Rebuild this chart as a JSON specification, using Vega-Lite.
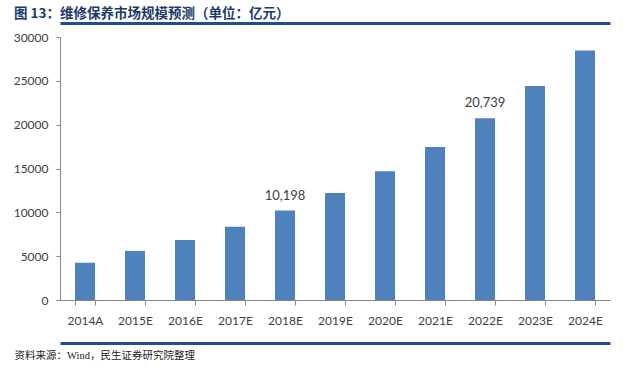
{
  "$schema": "https://vega.github.io/schema/vega-lite/v6.json",
  "width": 550,
  "height": 263,
  "autosize": {"type": "none"},
  "padding": {"left": 60, "top": 37, "right": 13, "bottom": 71},
  "background": "white",
  "title": {
    "text": "图 13：维修保养市场规模预测（单位：亿元）",
    "anchor": "start",
    "frame": "group",
    "dx": -46,
    "offset": 3,
    "font": "Noto Sans CJK SC",
    "fontSize": 13.5,
    "fontWeight": "bold",
    "color": "#1B3A6B"
  },
  "data": {
    "values": [
      {"year": "2014A", "value": 4250, "label": ""},
      {"year": "2015E", "value": 5600, "label": ""},
      {"year": "2016E", "value": 6850, "label": ""},
      {"year": "2017E", "value": 8350, "label": ""},
      {"year": "2018E", "value": 10198, "label": "10,198"},
      {"year": "2019E", "value": 12200, "label": ""},
      {"year": "2020E", "value": 14700, "label": ""},
      {"year": "2021E", "value": 17450, "label": ""},
      {"year": "2022E", "value": 20739, "label": "20,739"},
      {"year": "2023E", "value": 24400, "label": ""},
      {"year": "2024E", "value": 28450, "label": ""}
    ]
  },
  "layer": [
    {
      "mark": {"type": "bar", "color": "#4F81BD"},
      "encoding": {
        "x": {
          "field": "year", "type": "ordinal", "sort": null,
          "scale": {"paddingInner": 0.6, "paddingOuter": 0.3},
          "axis": {
            "orient": "bottom", "title": null, "labelAngle": 0,
            "domainColor": "#868686", "tickColor": "#868686",
            "tickSize": 5, "tickBand": "extent",
            "labelPadding": 10, "labelFont": "Lato", "labelFontSize": 12,
            "labelColor": "#404040"
          }
        },
        "y": {
          "field": "value", "type": "quantitative",
          "scale": {"domain": [0, 30000], "nice": false},
          "axis": {
            "title": null, "values": [0, 5000, 10000, 15000, 20000, 25000, 30000],
            "format": "d", "grid": false,
            "domainColor": "#868686", "tickColor": "#868686",
            "tickSize": 4, "labelPadding": 8,
            "labelFont": "Lato", "labelFontSize": 12, "labelColor": "#404040"
          }
        }
      }
    },
    {
      "transform": [{"filter": "datum.label != ''"}],
      "mark": {"type": "text", "baseline": "bottom", "dy": -8, "font": "Lato", "fontSize": 13, "color": "#404040"},
      "encoding": {
        "x": {"field": "year", "type": "ordinal", "sort": null, "axis": null},
        "y": {"field": "value", "type": "quantitative"},
        "text": {"field": "label"}
      }
    },
    {
      "mark": {"type": "point", "opacity": 0},
      "encoding": {
        "x": {
          "field": "year", "type": "ordinal", "sort": null,
          "axis": {
            "orient": "top", "offset": 14, "labels": false, "ticks": false,
            "title": null, "domainColor": "#1F4E8C", "domainWidth": 3
          }
        }
      }
    },
    {
      "mark": {"type": "point", "opacity": 0},
      "encoding": {
        "x": {
          "field": "year", "type": "ordinal", "sort": null,
          "axis": {
            "orient": "bottom", "offset": 43, "labels": false, "ticks": false,
            "domainColor": "#1F4E8C", "domainWidth": 3,
            "title": "资料来源：Wind，民生证券研究院整理",
            "titleAnchor": "start", "titleAlign": "left", "titleX": -46, "titleY": 7,
            "titleBaseline": "top",
            "titleFont": "Liberation Serif, Noto Sans CJK SC", "titleFontSize": 10.5, "titleFontWeight": "normal",
            "titleColor": "#222222"
          }
        }
      }
    }
  ],
  "resolve": {"axis": {"x": "independent"}},
  "config": {"view": {"stroke": null}}
}
